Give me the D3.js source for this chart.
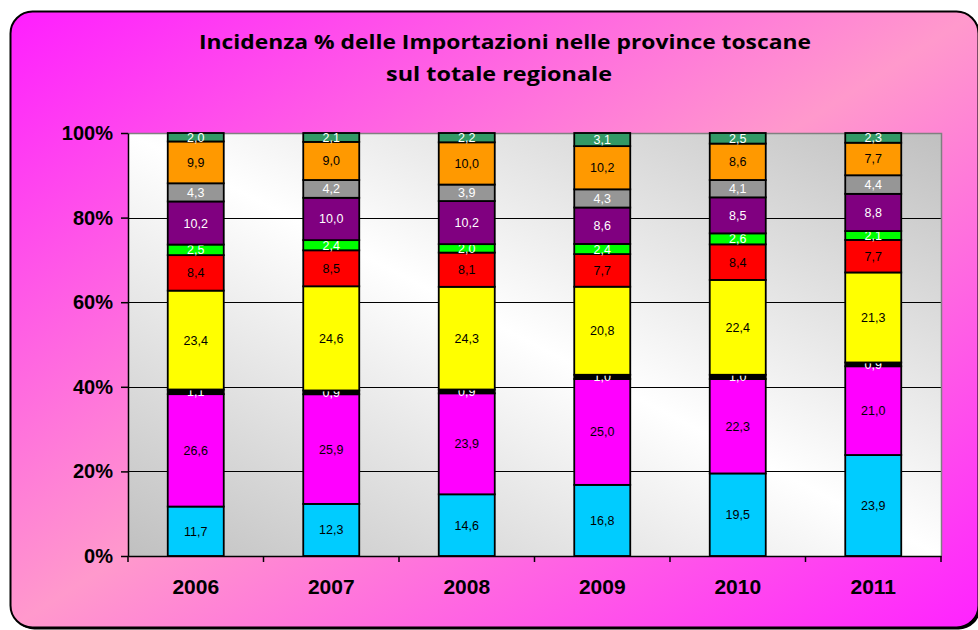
<!DOCTYPE html>
<html lang="it">
  <head>
    <title>importazioni province toscane</title>
    <meta charset="utf-8">
    <style>
      body { margin: 0; background: #fff; }
      .title { font-family: "Comic Sans MS", "Open Sans", sans-serif; font-weight: bold; font-size: 20px; }
      .yaxis text, .xaxis text { font-family: Arial, "Liberation Sans", sans-serif; font-weight: bold; fill: #000; }
      .yaxis text { font-size: 20px; }
      .xaxis text { font-size: 21px; }
      .lbl { font-family: Arial, "Liberation Sans", sans-serif; font-size: 12.5px; }
    </style>
    <script src="https://d3js.org/d3.v7.min.js"></script>
  </head>
  <body>
    <script>

    // anni e quote % per serie (dal basso verso l'alto)
    var years = ["2006", "2007", "2008", "2009", "2010", "2011"];
    var keys = ["s1", "s2", "s3", "s4", "s5", "s6", "s7", "s8", "s9", "s10"];
    var s1  = [11.7, 12.3, 14.6, 16.8, 19.5, 23.9];
    var s2  = [26.6, 25.9, 23.9, 25.0, 22.3, 21.0];
    var s3  = [1.1, 0.9, 0.9, 1.0, 1.0, 0.9];
    var s4  = [23.4, 24.6, 24.3, 20.8, 22.4, 21.3];
    var s5  = [8.4, 8.5, 8.1, 7.7, 8.4, 7.7];
    var s6  = [2.5, 2.4, 2.0, 2.4, 2.6, 2.1];
    var s7  = [10.2, 10.0, 10.2, 8.6, 8.5, 8.8];
    var s8  = [4.3, 4.2, 3.9, 4.3, 4.1, 4.4];
    var s9  = [9.9, 9.0, 10.0, 10.2, 8.6, 7.7];
    var s10 = [2.0, 2.1, 2.2, 3.1, 2.5, 2.3];
    var yTicks = [0, 0.2, 0.4, 0.6, 0.8, 1];

    var colors = ["#00ccff", "#ff00ff", "#000000", "#ffff00", "#ff0000", "#00ff00", "#800080", "#969696", "#ff9900", "#339966"];
    var textColors = ["#000", "#000", "#fff", "#000", "#000", "#fff", "#fff", "#fff", "#000", "#fff"];

    var series = [s1, s2, s3, s4, s5, s6, s7, s8, s9, s10];
    var rows = years.map(function(y, i) {
      var r = {year: y};
      keys.forEach(function(k, j) { r[k] = series[j][i]; });
      return r;
    });

    var W = 978, H = 630;
    var margin = {top: 133, right: 37, bottom: 74, left: 128};

    var svg = d3.select("body").append("svg")
                .attr("width", W)
                .attr("height", H);

    var defs = svg.append("defs");
    var bg = defs.append("linearGradient").attr("id", "bg")
                 .attr("x1", 0).attr("y1", 0).attr("x2", 1).attr("y2", 1);
    bg.append("stop").attr("offset", "0%").attr("stop-color", "#ff1eff");
    bg.append("stop").attr("offset", "50%").attr("stop-color", "#ff99cc");
    bg.append("stop").attr("offset", "100%").attr("stop-color", "#ff22ff");

    var pg = defs.append("linearGradient").attr("id", "plotbg")
                 .attr("x1", 0).attr("y1", 1).attr("x2", 1).attr("y2", 0);
    pg.append("stop").attr("offset", "0%").attr("stop-color", "#c0c0c0");
    pg.append("stop").attr("offset", "50%").attr("stop-color", "#ffffff");
    pg.append("stop").attr("offset", "100%").attr("stop-color", "#c0c0c0");

    // cornice esterna con ombra
    svg.append("rect")
       .attr("x", 12.5).attr("y", 13.5).attr("width", 968).attr("height", 616)
       .attr("rx", 22).attr("fill", "#000");
    svg.append("rect")
       .attr("x", 10.5).attr("y", 11.5).attr("width", 968).attr("height", 616)
       .attr("rx", 22).attr("fill", "url(#bg)")
       .attr("stroke", "#000").attr("stroke-width", 2);

    svg.append("text").attr("class", "title")
       .attr("x", 505).attr("y", 49).attr("text-anchor", "middle")
       .attr("textLength", 612).attr("lengthAdjust", "spacingAndGlyphs")
       .text("Incidenza % delle Importazioni nelle province toscane");
    svg.append("text").attr("class", "title")
       .attr("x", 499).attr("y", 81).attr("text-anchor", "middle")
       .attr("textLength", 226).attr("lengthAdjust", "spacingAndGlyphs")
       .text("sul totale regionale");

    var x0 = margin.left, x1 = W - margin.right;

    var xS = d3.scaleBand().domain(years).range([x0, x1]);
    var yS = d3.scaleLinear().domain([0, 1]).range([H - margin.bottom, margin.top]);

    var barW = 56;

    // area del grafico
    svg.append("rect")
       .attr("x", x0).attr("y", yS(1))
       .attr("width", x1 - x0).attr("height", yS(0) - yS(1))
       .attr("fill", "url(#plotbg)");

    svg.append("g").selectAll("line")
       .data(yTicks.filter(function(d) { return d > 0 && d < 1; }))
       .enter().append("line")
       .attr("x1", x0).attr("x2", x1)
       .attr("y1", function(d) { return Math.round(yS(d)) + 0.5; })
       .attr("y2", function(d) { return Math.round(yS(d)) + 0.5; })
       .attr("stroke", "#000");

    svg.append("path")
       .attr("d", "M" + x0 + "," + (yS(1) + 0.5) + "H" + (x1 + 0.5) + "V" + yS(0))
       .attr("fill", "none").attr("stroke", "#808080").attr("stroke-width", 1.5);

    var stack = d3.stack().keys(keys).offset(d3.stackOffsetExpand);
    var layers = stack(rows);

    var g = svg.append("g").selectAll("g")
               .data(layers)
               .enter().append("g");

    g.selectAll("rect")
     .data(function(d) { return d; })
     .enter().append("rect")
     .attr("x", function(d) { return xS(d.data.year) + (xS.bandwidth() - barW) / 2; })
     .attr("y", function(d) { return yS(d[1]); })
     .attr("width", barW)
     .attr("height", function(d) { return yS(d[0]) - yS(d[1]); })
     .attr("fill", function() { return colors[d3.select(this.parentNode).datum().index]; })
     .attr("stroke", "#000").attr("stroke-width", 1.8);

    var fmt = d3.format(".1f");
    g.selectAll("text")
     .data(function(d) { return d.map(function(p) { p.key = d.key; p.idx = d.index; return p; }); })
     .enter().append("text")
     .attr("class", "lbl")
     .attr("x", function(d) { return xS(d.data.year) + xS.bandwidth() / 2; })
     .attr("y", function(d) { return (yS(d[0]) + yS(d[1])) / 2; })
     .attr("dy", "0.36em")
     .attr("text-anchor", "middle")
     .attr("fill", function(d) { return textColors[d.idx]; })
     .text(function(d) { return fmt(d.data[d.key]).replace(".", ","); });

    // assi
    var yAxis = svg.append("g").attr("class", "yaxis")
                   .attr("transform", "translate(" + x0 + ",0)")
                   .call(d3.axisLeft(yS).tickValues(yTicks).tickFormat(d3.format(".0%"))
                           .tickSize(7).tickPadding(8).tickSizeOuter(0));
    yAxis.selectAll("line, path").attr("stroke", "#000").attr("stroke-width", 1.5);

    var xAxis = svg.append("g").attr("class", "xaxis")
                   .attr("transform", "translate(0," + yS(0) + ")")
                   .call(d3.axisBottom(xS).tickSize(0).tickPadding(23).tickSizeOuter(0));
    xAxis.select("path").attr("stroke", "#000").attr("stroke-width", 1.5);

    xAxis.selectAll(".sep")
         .data([years[0]].concat(years))
         .enter().append("line")
         .attr("class", "sep")
         .attr("x1", function(d, i) { return i === 0 ? x0 : xS(d) + xS.step(); })
         .attr("x2", function(d, i) { return i === 0 ? x0 : xS(d) + xS.step(); })
         .attr("y1", 0).attr("y2", 6)
         .attr("stroke", "#000").attr("stroke-width", 1.5);

    </script>
  </body>
</html>
